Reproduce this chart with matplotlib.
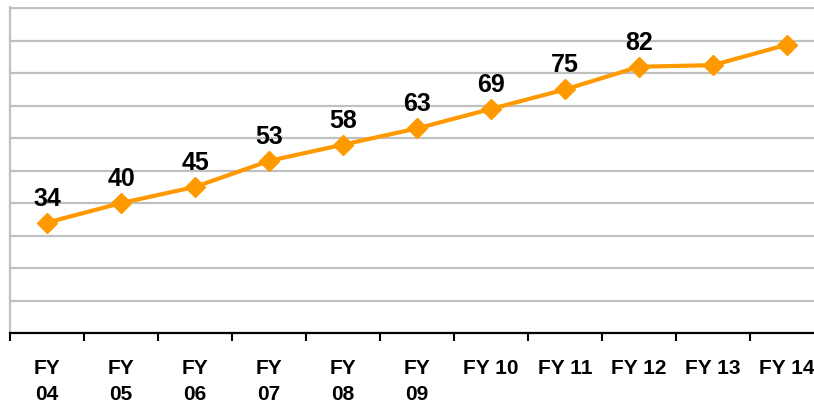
import matplotlib
matplotlib.use("Agg")
import matplotlib.pyplot as plt
from matplotlib.ticker import FixedLocator

categories = ["FY\n04", "FY\n05", "FY\n06", "FY\n07", "FY\n08", "FY\n09",
              "FY 10", "FY 11", "FY 12", "FY 13", "FY 14"]
values = [34, 40, 45, 53, 58, 63, 69, 75, 82, 82.5, 88.8]
point_labels = ["34", "40", "45", "53", "58", "63", "69", "75", "82", "", ""]
y_ticks = list(range(0, 101, 10))

W, H = 814, 406
fig = plt.figure(figsize=(W / 100, H / 100), dpi=100)
ax = fig.add_axes([10 / W, (H - 334) / H, (824 - 10) / W, (334 - 8) / H])

x = list(range(len(categories)))
ax.plot(x, values, color="#FF9900", lw=3.0, marker="D", ms=10,
        markerfacecolor="#FF9900", markeredgecolor="#FF9900", zorder=3,
        clip_on=False)

for xi, v, lab in zip(x, values, point_labels):
    if lab:
        ax.annotate(lab, (xi, v), xytext=(0, 13), textcoords="offset points",
                    ha="center", va="baseline", fontsize=18, fontweight="bold",
                    family="Liberation Sans", color="black")

ax.set_xlim(-0.5, len(categories) - 0.5)
ax.set_ylim(0, 100.4)

ax.set_yticks(y_ticks)
ax.tick_params(axis="y", length=0, labelleft=False)
ax.yaxis.grid(True, color="#C0C0C0", lw=1.6)
ax.set_axisbelow(True)

ax.set_xticks(x)
ax.set_xticklabels(categories, fontsize=15, fontweight="bold",
                   family="Liberation Sans")
for t in ax.get_xticklabels():
    t.set_linespacing(1.45)
ax.tick_params(axis="x", which="major", length=0, pad=18)
ax.xaxis.set_minor_locator(FixedLocator([i - 0.5 for i in range(len(categories) + 1)]))
ax.tick_params(axis="x", which="minor", length=6, width=1.5, color="black",
               direction="out")

for s in ["top", "right"]:
    ax.spines[s].set_visible(False)
ax.spines["left"].set_color("#C0C0C0")
ax.spines["left"].set_linewidth(1.6)
ax.spines["bottom"].set_color("black")
ax.spines["bottom"].set_linewidth(1.6)
ax.spines["bottom"].set_zorder(4)

fig.savefig("out.png", dpi=100)
